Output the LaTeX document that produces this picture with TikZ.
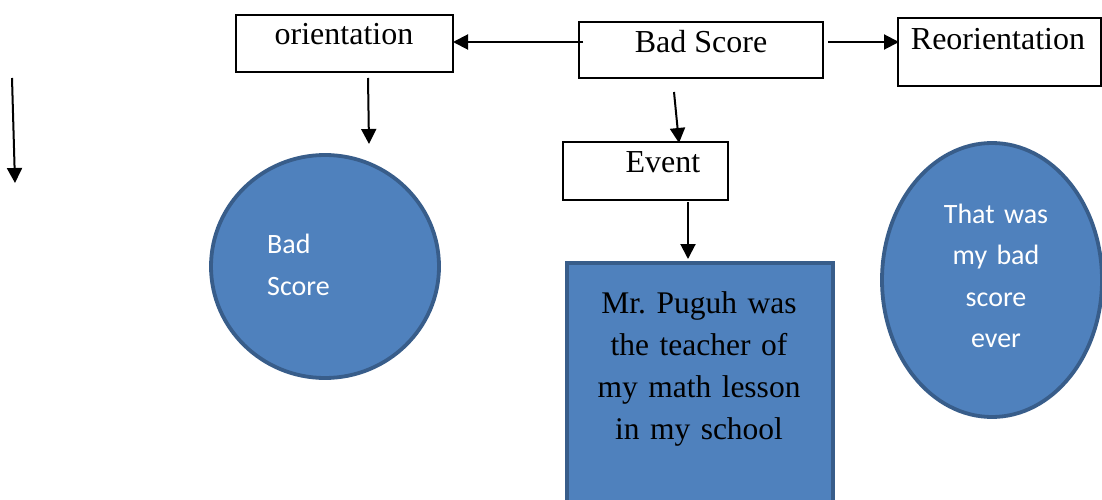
\documentclass[tikz,border=0pt]{standalone}
\usepackage{fontspec}
\setmainfont{Liberation Serif}
\newfontfamily\bodysans{Carlito}
\usetikzlibrary{arrows.meta,shapes.geometric}
\definecolor{shapefill}{HTML}{4F81BD}
\definecolor{shapeline}{HTML}{385D8A}
\frenchspacing
\tikzset{
  plainbox/.style={draw=black, line width=2pt, fill=white, rectangle, inner sep=0pt},
  boxtext/.style={anchor=base, inner sep=0pt, font=\fontsize{32}{42}\selectfont},
  bubble/.style={draw=shapeline, line width=3.8pt, fill=shapefill, ellipse, inner sep=0pt},
  bubbletext/.style={inner sep=0pt, text=white, font=\bodysans\fontsize{28}{41.5}\selectfont},
  flow/.style={line width=2pt, -{Triangle[length=15pt,width=15pt]}}
}
\begin{document}
\begin{tikzpicture}[x=1pt,y=-1pt]
  \clip (0,0) rectangle (1102,500);
  \fill[white] (0,0) rectangle (1102,500);

  % header boxes
  \node[plainbox, minimum width=217pt, minimum height=57pt] (orient) at (344.5,43.5) {};
  \node[boxtext] (orienttxt) at (344,45) {orientation};
  \node[plainbox, minimum width=244pt, minimum height=56pt] (bad) at (701,50) {};
  \node[boxtext] (badtxt) at (701,53) {Bad Score};
  \node[plainbox, minimum width=203pt, minimum height=68pt] (reorient) at (999.5,52) {};
  \node[boxtext] (reorienttxt) at (998,50) {Reorientation};

  % event row
  \node[plainbox, minimum width=165pt, minimum height=58pt] (event) at (645.5,171) {};
  \node[boxtext] (eventtxt) at (663,172) {Event};

  % filled shapes
  \node[bubble, minimum width=228pt, minimum height=223pt] (badbubble) at (325,266.5) {};
  \node[bubbletext, anchor=base west, align=left] (badbubbletxt) at (267,295)
    {Bad\\Score};
  \node[bubble, minimum width=220pt, minimum height=274pt] (lastbubble) at (992,280) {};
  \node[bubbletext, anchor=base, text width=150pt, align=center] (lastbubbletxt) at (996,223)
    {That was\\my bad\\score\\ever};
  \node[draw=shapeline, line width=3.8pt, fill=shapefill, rectangle, inner sep=0pt,
        minimum width=266pt, minimum height=260pt] (story) at (700,393) {};
  \node[boxtext, text width=240pt, align=center, font=\fontsize{31.5}{42}\selectfont]
    (storytxt) at (699,313)
    {Mr. Puguh was\\the teacher of\\my math lesson\\in my school};

  % connector end points
  \coordinate (c1s) at (583,42);
  \coordinate (c1e) at (453,42);
  \coordinate (c2s) at (828,42);
  \coordinate (c2e) at (899,42);
  \coordinate (c3s) at (368,78);
  \coordinate (c3e) at (369,144);
  \coordinate (c4s) at (12,78);
  \coordinate (c4e) at (15,183);
  \coordinate (c5s) at (674,92);
  \coordinate (c5e) at (679,143);
  \coordinate (c6s) at (688,202);
  \coordinate (c6e) at (688,259);

  \draw[flow] (c1s) -- (c1e);
  \draw[flow] (c2s) -- (c2e);
  \draw[flow] (c3s) -- (c3e);
  \draw[flow] (c4s) -- (c4e);
  \draw[flow] (c5s) -- (c5e);
  \draw[flow] (c6s) -- (c6e);
\end{tikzpicture}
\end{document}
